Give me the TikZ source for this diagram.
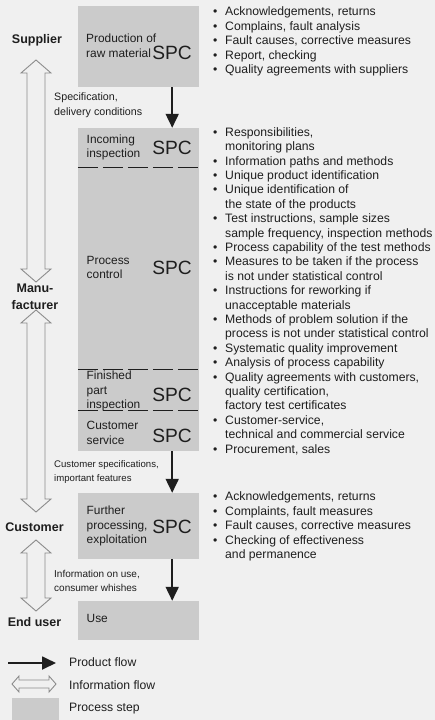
\documentclass[tikz,border=0pt]{standalone}
\usepackage{fontspec}
\setmainfont{Liberation Sans}
\usetikzlibrary{arrows.meta,calc}

\definecolor{pagebg}{HTML}{F0F0F0}
\definecolor{stepgray}{HTML}{CBCBCB}
\definecolor{inkdark}{HTML}{1E1E1E}
\definecolor{infogray}{HTML}{8C8C8C}

\newcommand{\lbul}{\makebox[12pt][l]{\textbullet}}
\newcommand{\lcont}{\hspace*{12pt}}

\begin{document}
\begin{tikzpicture}[x=1pt, y=-1pt,
  stepbox/.style={fill=stepgray, inner sep=0pt, minimum width=121pt},
  boxtext/.style={anchor=west, align=left, inner sep=0pt, text=inkdark, font=\fontsize{11.9}{14.6}\selectfont},
  spc/.style={anchor=east, inner sep=0pt, text=inkdark, font=\fontsize{19.2}{20}\selectfont},
  party/.style={align=center, inner sep=0pt, text=inkdark, font=\fontsize{12.5}{17}\selectfont\bfseries},
  flowtext/.style={anchor=west, align=left, inner sep=0pt, text=inkdark},
  bullets/.style={anchor=west, align=left, inner sep=0pt, text=inkdark, font=\fontsize{12.2}{14.4}\selectfont},
  prodflow/.style={draw=inkdark, line width=1.8pt, -{Triangle[length=14pt, width=13pt]}},
  infoflow/.style={draw=infogray, line width=0.9pt, fill=pagebg, line join=miter},
  divider/.style={draw=inkdark, line width=1.3pt, dash pattern=on 20pt off 5pt}
]
  % Page
  \fill[pagebg] (0,0) rectangle (435,720);
  \useasboundingbox (0,0) rectangle (435,720);

  % Process steps
  \node[stepbox, minimum height=81pt] (raw) at (138.5,46.5) {};
  \node[stepbox, minimum height=39pt] (incoming) at (138.5,147.5) {};
  \node[stepbox, minimum height=203pt] (process) at (138.5,268.5) {};
  \node[stepbox, minimum height=40pt] (finished) at (138.5,390) {};
  \node[stepbox, minimum height=41pt] (custserv) at (138.5,430.5) {};
  \node[stepbox, minimum height=66pt] (further) at (138.5,526) {};
  \node[stepbox, minimum height=39pt] (use) at (138.5,620.5) {};

  \draw[divider] (incoming.south west) -- (incoming.south east);
  \draw[divider] (finished.north west) -- (finished.north east);
  \draw[divider] (finished.south west) -- (finished.south east);

  % Step texts
  \node[boxtext] (rawtxt) at (86,46) {Production of\\raw material};
  \node[spc] (rawspc) at (192,53) {SPC};
  \node[boxtext] (inctxt) at (86.5,147.5) {Incoming\\inspection};
  \node[spc] (incspc) at (192,148) {SPC};
  \node[boxtext] (proctxt) at (86.5,267.5) {Process\\control};
  \node[spc] (procspc) at (192,268) {SPC};
  \node[boxtext] (fintxt) at (86.5,391) {Finished\\part\\inspection};
  \node[spc] (finspc) at (192,395) {SPC};
  \node[boxtext] (servtxt) at (86.5,433) {Customer\\service};
  \node[spc] (servspc) at (192,436) {SPC};
  \node[boxtext] (furtxt) at (86.5,526) {Further\\processing,\\exploitation};
  \node[spc] (furspc) at (192,527) {SPC};
  \node[boxtext] (usetxt) at (86.5,618) {Use};

  % Product flow
  \draw[prodflow] ($(raw.south east)+(-27,0)$) -- ($(incoming.north east)+(-27,0)$);
  \draw[prodflow] ($(custserv.south east)+(-27,0)$) -- ($(further.north east)+(-27,0)$);
  \draw[prodflow] ($(further.south east)+(-27,0)$) -- ($(use.north east)+(-27,0)$);

  \node[flowtext, font=\fontsize{10.7}{15}\selectfont] (spec) at (54,105.5) {Specification,\\delivery conditions};
  \node[flowtext, font=\fontsize{9.6}{14}\selectfont] (custspec) at (54,472.5) {Customer specifications,\\important features};
  \node[flowtext, font=\fontsize{10}{14}\selectfont] (useinfo) at (54,580.5) {Information on use,\\consumer whishes};

  % Parties
  \node[party] (supplier) at (37,40) {Supplier};
  \node[party] (manu) at (35,297) {Manu-\\facturer};
  \node[party] (customer) at (34.5,527) {Customer};
  \node[party] (enduser) at (34.5,622) {End user};

  % Information flow
  \coordinate (i1a) at (36,60);
  \coordinate (i1b) at (36,282);
  \coordinate (i2a) at (36,310);
  \coordinate (i2b) at (36,512);
  \coordinate (i3a) at (36,540);
  \coordinate (i3b) at (36,611);
  \draw[infoflow] (i1a) -- ++(15,13) -- ++(-6,0) -- ($(i1b)+(9,-13)$) -- ++(6,0) -- (i1b) -- ++(-15,-13) -- ++(6,0) -- ($(i1a)+(-9,13)$) -- ++(-6,0) -- cycle;
  \draw[infoflow] (i2a) -- ++(15,13) -- ++(-6,0) -- ($(i2b)+(9,-13)$) -- ++(6,0) -- (i2b) -- ++(-15,-13) -- ++(6,0) -- ($(i2a)+(-9,13)$) -- ++(-6,0) -- cycle;
  \draw[infoflow] (i3a) -- ++(15,13) -- ++(-6,0) -- ($(i3b)+(9,-13)$) -- ++(6,0) -- (i3b) -- ++(-15,-13) -- ++(6,0) -- ($(i3a)+(-9,13)$) -- ++(-6,0) -- cycle;

  % Measures
  \node[bullets] (supplist) at (213,41.5) {\lbul Acknowledgements, returns\\
    \lbul Complains, fault analysis\\
    \lbul Fault causes, corrective measures\\
    \lbul Report, checking\\
    \lbul Quality agreements with suppliers};
  \node[bullets] (manulist) at (213,291) {\lbul Responsibilities,\\
    \lcont monitoring plans\\
    \lbul Information paths and methods\\
    \lbul Unique product identification\\
    \lbul Unique identification of\\
    \lcont the state of the products\\
    \lbul Test instructions, sample sizes\\
    \lcont sample frequency, inspection methods\\
    \lbul Process capability of the test methods\\
    \lbul Measures to be taken if the process\\
    \lcont is not under statistical control\\
    \lbul Instructions for reworking if\\
    \lcont unacceptable materials\\
    \lbul Methods of problem solution if the\\
    \lcont process is not under statistical control\\
    \lbul Systematic quality improvement\\
    \lbul Analysis of process capability\\
    \lbul Quality agreements with customers,\\
    \lcont quality certification,\\
    \lcont factory test certificates\\
    \lbul Customer-service,\\
    \lcont technical and commercial service\\
    \lbul Procurement, sales};
  \node[bullets] (custlist) at (213,526.5) {\lbul Acknowledgements, returns\\
    \lbul Complaints, fault measures\\
    \lbul Fault causes, corrective measures\\
    \lbul Checking of effectiveness\\
    \lcont and permanence};

  % Legend
  \coordinate (l1a) at (8,663);
  \coordinate (l1b) at (56,663);
  \draw[prodflow] (l1a) -- (l1b);
  \coordinate (l2a) at (12,684);
  \coordinate (l2b) at (56,684);
  \draw[infoflow] (l2a) -- ++(7,-8) -- ++(0,4) -- ($(l2b)+(-7,-4)$) -- ++(0,-4) -- (l2b) -- ++(-7,8) -- ++(0,-4) -- ($(l2a)+(7,4)$) -- ++(0,4) -- cycle;
  \node[stepbox, minimum width=47pt, minimum height=22pt] (lstep) at (35.5,709) {};
  \node[flowtext, font=\fontsize{12.2}{14}\selectfont] (lprod) at (69,662.5) {Product flow};
  \node[flowtext, font=\fontsize{12.2}{14}\selectfont] (linfo) at (69,685) {Information flow};
  \node[flowtext, font=\fontsize{12.2}{14}\selectfont] (lproc) at (69,709) {Process step};
\end{tikzpicture}
\end{document}
